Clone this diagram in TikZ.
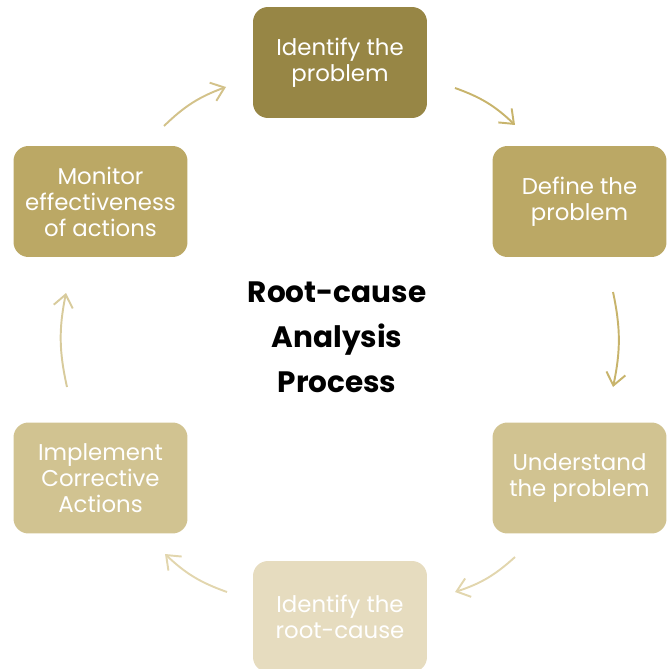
\documentclass[tikz,border=0pt]{standalone}
\usepackage{fontspec}
\setmainfont{Poppins}
\usetikzlibrary{arrows.meta}

\definecolor{stepA}{HTML}{978645}
\definecolor{stepB}{HTML}{BBA865}
\definecolor{stepC}{HTML}{D1C391}
\definecolor{stepD}{HTML}{E6DCBF}
\definecolor{arrA}{HTML}{C8B46C}
\definecolor{arrB}{HTML}{E2D6AE}
\definecolor{arrC}{HTML}{D8CB9C}
\definecolor{arrD}{HTML}{D3C28A}

\tikzset{
	stepbox/.style={rounded corners=8.5pt, minimum width=3.48cm, minimum height=2.22cm,
		align=center, text=white, inner sep=0pt, font=\fontsize{13}{14.8}\selectfont},
	titletext/.style={align=center, font=\bfseries\fontsize{16.8}{25.5}\selectfont},
	cyc/.style={-{Straight Barb[length=7pt,width=11pt,line width=1.1pt]}, line width=1.1pt}
}

\begin{document}
\begin{tikzpicture}[x=0.02cm,y=0.02cm]
		\useasboundingbox (0,0) rectangle (671,-668);
		% steps, clockwise from the top
		\node[stepbox,fill=stepA] (idp) at (340,-62.5) {Identify the\\problem};
		\node[stepbox,fill=stepB] (dfp) at (579.5,-201.5) {Define the\\problem};
		\node[stepbox,fill=stepC] (udp) at (579.5,-478) {Understand\\the problem};
		\node[stepbox,fill=stepD] (irc) at (340,-616.5) {Identify the\\root-cause};
		\node[stepbox,fill=stepC] (ica) at (100.5,-478) {Implement\\Corrective\\Actions};
		\node[stepbox,fill=stepB] (mea) at (100.5,-201.5) {Monitor\\effectiveness\\of actions};
		\node[titletext] (rca) at (337,-337) {Root-cause\\Analysis\\Process};
		% arrow ends between the steps
		\coordinate (idp-out) at (455,-88);   \coordinate (dfp-in) at (515,-125);
		\coordinate (dfp-out) at (613,-292);  \coordinate (udp-in) at (613,-387);
		\coordinate (udp-out) at (515,-557);  \coordinate (irc-in) at (455,-592);
		\coordinate (irc-out) at (227,-592);  \coordinate (ica-in) at (165,-554);
		\coordinate (ica-out) at (67,-387);   \coordinate (mea-in) at (66,-293);
		\coordinate (mea-out) at (164,-126);  \coordinate (idp-in) at (226,-87);
		\foreach \s/\e/\c in {idp/dfp/arrA, dfp/udp/arrA, udp/irc/arrB, irc/ica/arrB, ica/mea/arrC, mea/idp/arrD} {
			\draw[cyc,draw=\c] (\s-out) to[bend left=12] (\e-in);
		}
\end{tikzpicture}
\end{document}
